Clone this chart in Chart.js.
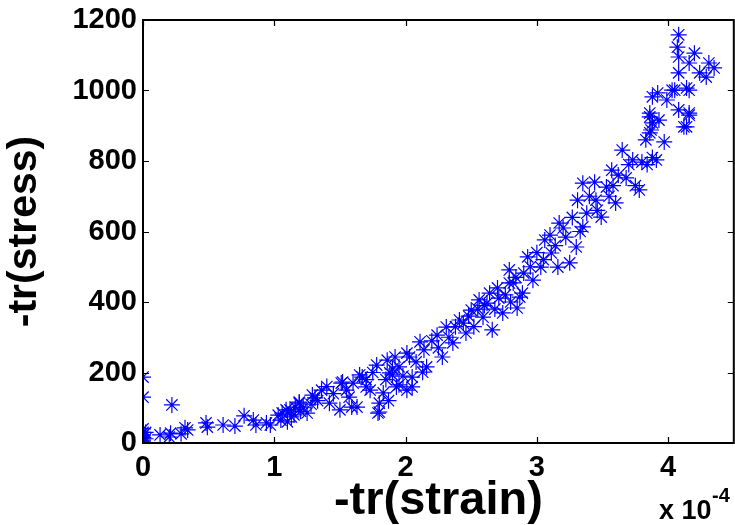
<!DOCTYPE html>
<html lang="en">
<head>
    <meta charset="UTF-8">
    <title>-tr(stress) vs -tr(strain)</title>
    <script src="https://cdn.jsdelivr.net/npm/chart.js"></script>
    <style>
        html, body { margin: 0; padding: 0; background: #ffffff; overflow: hidden; }
        #wrap { width: 735px; height: 525px; overflow: hidden; }
    </style>
</head>
<body>
<!-- canvas is a bit wider than the window so the right frame edge sits at the window edge, like the original -->
<div id="wrap"><canvas id="scatter" width="743" height="525"></canvas></div>
<script>
  // strain values are in units of 1e-4 (the axis shows "x 10^-4")
  const strainE4 = [
    0, 0, 0, 0, 0, 0, 0, 0, 0, 0.02, 0.02,
    0.22, 0.13, 0.2, 0.21, 0.29, 0.32, 0.34, 0.48, 0.49, 0.61, 0.70, 0.77, 0.84, 0.86, 0.94, 0.97,
    1.03, 1.05, 1.09, 1.13, 1.16, 1.06, 1.12, 1.19, 1.25, 1.31, 1.36, 1.42, 1.50, 1.52, 1.57, 1.63,
    1.67, 1.73, 1.78, 1.79, 1.80, 1.83, 1.86, 1.90, 1.93, 1.95, 2.01, 2.05, 2.11, 2.14, 2.16,
    1.19, 1.29, 1.51, 1.59, 1.65, 1.70, 1.80, 1.88, 1.92, 1.95, 2.05, 2.13,
    2.01, 2.03, 2.24, 2.28, 2.31, 2.36, 2.41, 2.46, 2.50, 2.56, 2.59, 2.66, 2.64, 2.71, 2.74,
    2.79, 2.79, 2.85, 2.89, 2.90, 2.93,
    2.62, 2.82, 2.87, 2.97, 3.03, 3.06, 3.11, 3.16, 3.17, 3.22, 3.25, 3.30, 3.31, 3.35, 3.38,
    3.44, 3.45, 3.49, 3.53,
    3.35, 3.57, 3.60, 3.65, 3.68, 3.73, 3.78, 3.80, 3.83, 3.86, 3.87, 3.91, 3.92, 3.93, 3.97,
    3.99, 4.05, 4.08, 4.14, 4.16, 4.16,
    4.08, 4.07, 4.08, 4.20, 4.08, 4.16, 4.24, 4.31, 4.35, 4.29, 4.03, 4.14, 3.88, 4.16, 3.86,
    3.88, 4.12, 3.86, 3.84, 3.88,
    2.20, 2.25, 2.33, 2.38, 2.44, 2.48, 2.52, 2.55, 2.60, 2.68, 2.70, 2.76, 2.80, 2.84, 2.95,
    3.00, 3.05, 3.10, 3.14, 3.20, 3.27, 3.33, 3.40, 3.46, 3.55, 3.58, 3.62, 3.70, 3.75,
    1.70, 1.75, 1.85, 1.87, 1.90, 1.98, 2.08, 1.40, 1.45, 1.55, 1.60, 1.22, 1.28, 1.33,
    1.10, 1.15, 1.20
  ];
  const stress = [
    187, 130, 40, 30, 22, 15, 8, 3, 0, 12, 30,
    108, 23, 17, 28, 26, 43, 37, 57, 45, 51, 48, 77, 65, 51, 57, 51,
    79, 65, 94, 74, 102, 85, 94, 113, 85, 128, 150, 113, 94, 173, 130, 102,
    187, 150, 221, 85, 113, 142, 235, 193, 159, 216, 255, 187, 287, 264, 216,
    116, 136, 170, 102, 193, 159, 88, 199, 244, 165, 159, 201,
    150, 244, 306, 244, 329, 284, 349, 312, 377, 406, 357, 321, 425, 411, 369,
    491, 454, 383, 425, 482, 528,
    397, 454, 414, 462, 499, 576, 539, 499, 624, 584, 511, 556, 689, 613, 652,
    740, 689, 641, 726,
    737, 774, 681, 831, 752, 803, 718, 797, 860, 925, 888, 803, 993, 916, 854,
    973, 1001, 945, 897, 936, 1001,
    1158, 1123, 1095, 1106, 1050, 1078, 1050, 1078, 1064, 1038, 1001, 1007, 982, 930, 936,
    908, 897, 880, 790, 810,
    290, 270, 300, 330, 340, 360, 330, 380, 390, 380, 440, 420, 400, 470, 500,
    540, 520, 590, 560, 610, 640, 600, 700, 660, 700, 730, 760, 790, 730,
    180, 200, 180, 120, 210, 190, 230, 160, 140, 150, 170, 100, 110, 120,
    60, 80, 90
  ];
  const xTicks = [0, 1, 2, 3, 4];
  const yTicks = [0, 200, 400, 600, 800, 1000, 1200];

  const points = strainE4.map((s, i) => ({ x: s, y: stress[i] }));

  const FONT = "'Liberation Sans', Arial, sans-serif";

  // MATLAB style box with inward ticks and the exponent note
  const boxPlugin = {
    id: 'box',
    afterDraw(chart) {
      const { ctx, chartArea: a, scales } = chart;
      ctx.save();
      ctx.strokeStyle = '#000';
      ctx.lineWidth = 2;
      ctx.strokeRect(a.left, a.top, a.right - a.left, a.bottom - a.top);
      ctx.lineWidth = 1.2;
      ctx.beginPath();
      xTicks.forEach(v => {
        const px = Math.round(scales.x.getPixelForValue(v)) + 0.5;
        ctx.moveTo(px, a.bottom); ctx.lineTo(px, a.bottom - 6);
        ctx.moveTo(px, a.top); ctx.lineTo(px, a.top + 6);
      });
      yTicks.forEach(v => {
        const py = Math.round(scales.y.getPixelForValue(v)) + 0.5;
        ctx.moveTo(a.left, py); ctx.lineTo(a.left + 6, py);
        ctx.moveTo(a.right, py); ctx.lineTo(a.right - 6, py);
      });
      ctx.stroke();
      ctx.fillStyle = '#000';
      ctx.textBaseline = 'alphabetic';
      ctx.font = 'bold 27px ' + FONT;
      ctx.fillText('x 10', 659, 519);
      ctx.font = 'bold 20px ' + FONT;
      ctx.fillText('-4', 712, 502);
      ctx.restore();
    }
  };

  new Chart(document.getElementById('scatter'), {
    type: 'scatter',
    data: {
      datasets: [{
        label: '-tr(stress)',
        data: points,
        pointStyle: 'star',
        pointRadius: 8,
        pointHoverRadius: 8,
        borderColor: '#0000ff',
        backgroundColor: '#0000ff',
        pointBorderWidth: 1.2
      }]
    },
    options: {
      responsive: false,
      animation: false,
      layout: { padding: { top: 20, right: 0, left: 0, bottom: 0 } },
      plugins: { legend: { display: false }, tooltip: { enabled: false } },
      scales: {
        x: {
          type: 'linear',
          min: 0,
          max: 4.5,
          afterBuildTicks: s => { s.ticks = xTicks.map(v => ({ value: v })); },
          afterFit: s => { s.height = 82; s.paddingLeft = 0; s.paddingRight = 0; },
          grid: { display: false, drawTicks: false },
          border: { display: false },
          ticks: {
            color: '#000',
            padding: 8,
            maxRotation: 0,
            font: { family: FONT, size: 29, weight: 'bold' },
            callback: v => String(v)
          },
          title: {
            display: true,
            text: '-tr(strain)',
            color: '#000',
            padding: { top: 0, bottom: 0 },
            font: { family: FONT, size: 47, weight: 'bold', lineHeight: 1 }
          }
        },
        y: {
          min: 0,
          max: 1200,
          afterBuildTicks: s => { s.ticks = yTicks.map(v => ({ value: v })); },
          afterFit: s => { s.width = 143; s.paddingTop = 0; s.paddingBottom = 0; },
          grid: { display: false, drawTicks: false },
          border: { display: false },
          ticks: {
            color: '#000',
            padding: 6,
            font: { family: FONT, size: 29, weight: 'bold' },
            callback: v => String(v)
          },
          title: {
            display: true,
            text: '-tr(stress)',
            color: '#000',
            padding: { top: 4, bottom: 0 },
            font: { family: FONT, size: 41, weight: 'bold', lineHeight: 1 }
          }
        }
      }
    },
    plugins: [boxPlugin]
  });
</script>
</body>
</html>
